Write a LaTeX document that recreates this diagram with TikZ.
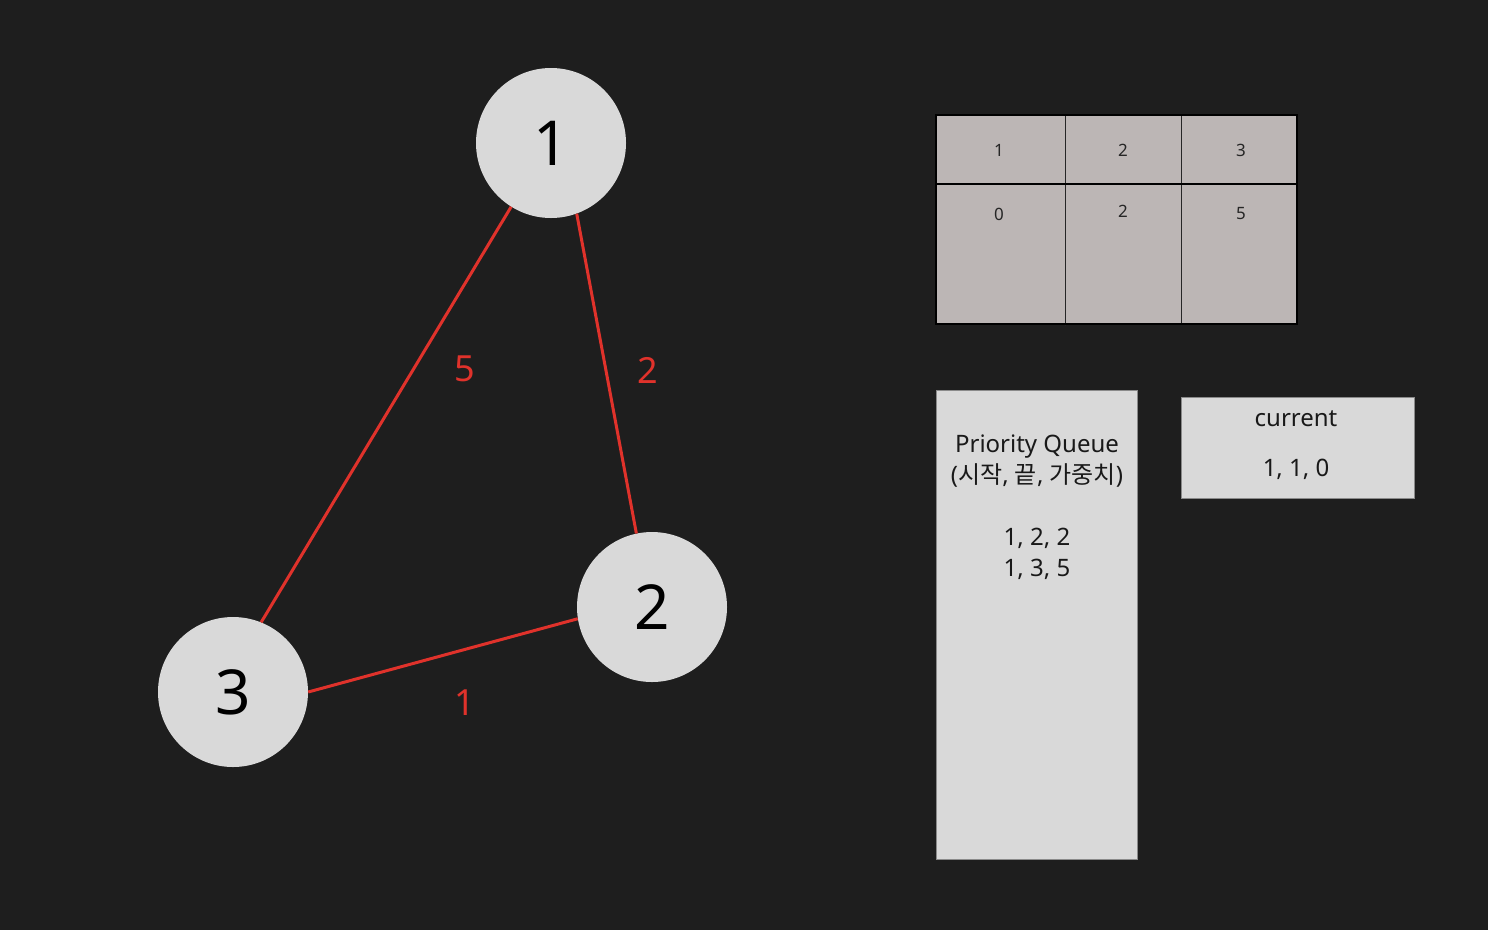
\documentclass[tikz,border=0pt]{standalone}
\usepackage{fontspec}
\setmainfont{Noto Sans}
\newfontfamily\kr{Noto Sans CJK KR}
\definecolor{bg}{HTML}{1E1E1E}
\definecolor{nodefill}{HTML}{D9D9D9}
\definecolor{edgered}{HTML}{E0322B}
\definecolor{cellfill}{HTML}{BCB6B5}
\definecolor{boxline}{HTML}{8A8A8A}
\begin{document}
\begin{tikzpicture}[x=1pt,y=-1pt,
  vert/.style={circle,fill=nodefill,minimum size=150pt,inner sep=0pt,font=\fontsize{62}{70}\selectfont,text=black},
  edge/.style={draw=edgered,line width=3pt},
  wlabel/.style={text=edgered,font=\fontsize{36}{40}\selectfont},
  cell/.style={font=\fontsize{17}{19}\selectfont,text=black!85},
  panel/.style={fill=nodefill,draw=boxline,line width=0.8pt},
  ptext/.style={font=\fontsize{24}{31}\selectfont,text=black!90,align=center}
]
\fill[bg] (0,0) rectangle (1488,930);
\useasboundingbox (0,0) rectangle (1488,930);

% graph
\node[vert] (n1) at (551,143) {1};
\node[vert] (n2) at (652,607) {2};
\node[vert] (n3) at (233,692) {3};
\draw[edge] (n1.-122.6) -- (n3.68.9);
\draw[edge] (n1.-70.2) -- (n2.102.8);
\draw[edge] (n2.-171.5) -- (n3.0);
\node[wlabel] (w13) at (465,369) {5};
\node[wlabel] (w12) at (648,370) {2};
\node[wlabel] (w23) at (465,703) {1};

% table
\fill[cellfill] (936,115) rectangle (1297,324);
\draw[black!85,line width=1pt] (1065,115) -- (1065,326);
\draw[black!85,line width=1pt] (1181,115) -- (1181,324);
\draw[black,line width=2pt] (936,184) -- (1297,184);
\draw[black,line width=2pt] (936,115) rectangle (1297,324);
\node[cell] (h1) at (999,150) {1};
\node[cell] (h2) at (1123,150) {2};
\node[cell] (h3) at (1241,150) {3};
\node[cell] (d1) at (999,214) {0};
\node[cell] (d2) at (1123,211) {2};
\node[cell] (d3) at (1241,214) {5};

% priority queue
\draw[panel] (936,390) rectangle (1137,859);
\node[ptext,anchor=north] (pq) at (1037,431) {Priority Queue\\({\kr 시작}, {\kr 끝}, {\kr 가중치})\\[31pt]1, 2, 2\\1, 3, 5};

% current
\draw[panel] (1181,397) rectangle (1414,498);
\node[ptext] (cur) at (1296,419) {current};
\node[ptext] (curv) at (1296,469) {1, 1, 0};
\end{tikzpicture}
\end{document}
